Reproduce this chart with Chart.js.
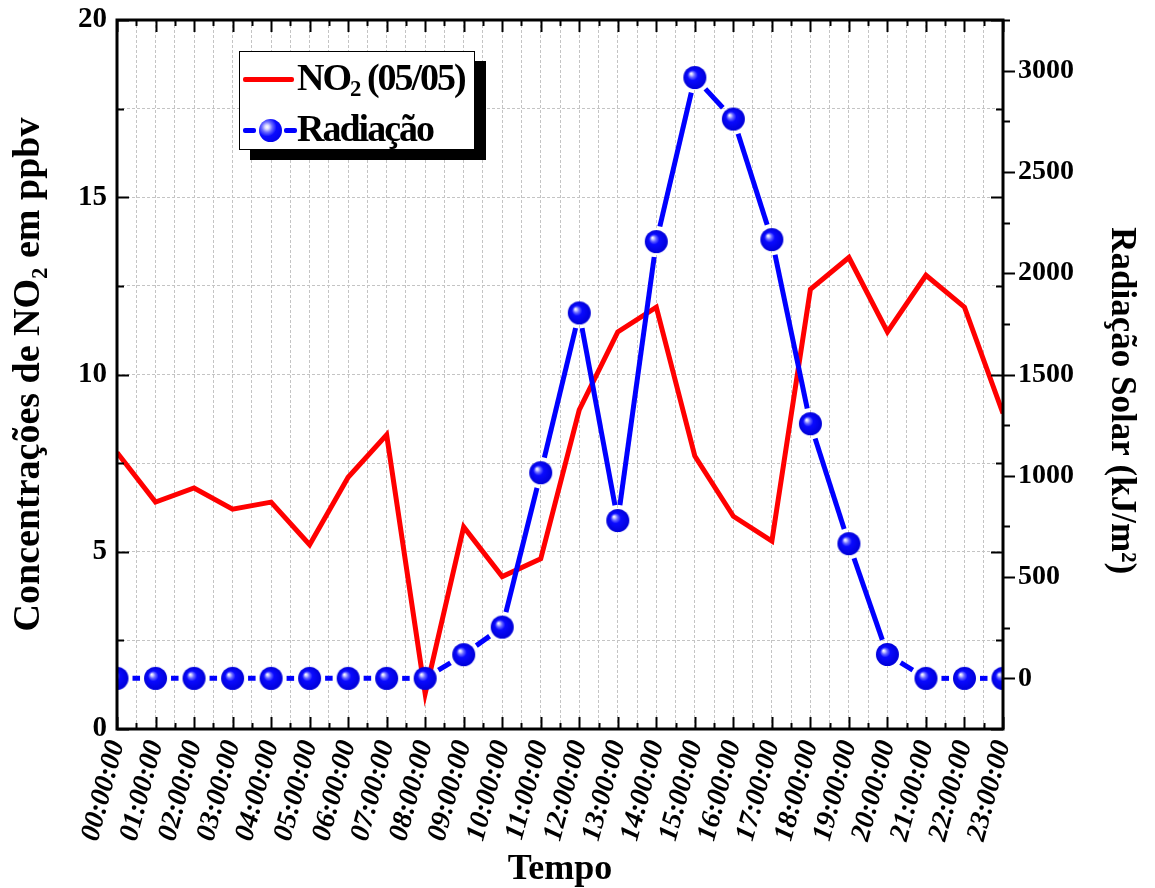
<!DOCTYPE html>
<html>
<head>
<meta charset="utf-8">
<script src="https://cdn.jsdelivr.net/npm/chart.js@4.4.1/dist/chart.umd.min.js"></script>
<style>
  html, body { margin: 0; padding: 0; background: #fff; }
  #wrap { position: relative; width: 1155px; height: 888px; }
  #legend {
    position: absolute; left: 239px; top: 51px; width: 234px; height: 97px;
    border: 1px solid #000; background: #fff; box-shadow: 11px 10px 0 #000;
    font-family: "Liberation Serif", "Times New Roman", serif; font-weight: bold; color: #000;
  }
  .txt { position: absolute; left: 57px; font-size: 38px; line-height: 38px; letter-spacing: -2px; white-space: nowrap; }
  .txt sub { font-size: 60%; vertical-align: -6px; line-height: 0; }
  .redline { position: absolute; left: 3px; top: 25px; width: 51px; height: 5px; background: #ff0000; border-radius: 2px; }
  .dash { position: absolute; top: 76px; width: 13px; height: 5px; background: #0000ff; border-radius: 2px; }
  .ball {
    position: absolute; left: 19px; top: 67px; width: 23px; height: 23px; border-radius: 50%;
    background: radial-gradient(circle at 35% 35%, #fff 0, #d8d8ff 10%, #6a6aff 25%, #0a0aff 45%, #0000d8 100%);
  }
</style>
</head>
<body>
<div id="wrap">
  <canvas id="chart" width="1155" height="888"></canvas>
  <div id="legend">
    <div class="redline"></div>
    <div class="txt" style="top:6px">NO<sub>2</sub> (05/05)</div>
    <div class="dash" style="left:3px"></div>
    <div class="ball"></div>
    <div class="dash" style="left:44px"></div>
    <div class="txt" style="top:57px">Radiação</div>
  </div>
</div>
<script>
// dados
const horas = ['00:00:00', '01:00:00', '02:00:00', '03:00:00', '04:00:00', '05:00:00',
  '06:00:00', '07:00:00', '08:00:00', '09:00:00', '10:00:00', '11:00:00',
  '12:00:00', '13:00:00', '14:00:00', '15:00:00', '16:00:00', '17:00:00',
  '18:00:00', '19:00:00', '20:00:00', '21:00:00', '22:00:00', '23:00:00'];
const no2 = [7.8, 6.4, 6.8, 6.2, 6.4, 5.2, 7.1, 8.3, 1.0, 5.7, 4.3, 4.8,
  9.0, 11.2, 11.9, 7.7, 6.0, 5.3, 12.4, 13.3, 11.2, 12.8, 11.9, 8.9];
const radiacao = [0, 0, 0, 0, 0, 0, 0, 0, 0, 117, 253, 1015,
  1804, 779, 2156, 2966, 2761, 2166, 1257, 665, 118, 0, 0, 0];
const no2Ticks = [0, 5, 10, 15, 20];
const radTicks = [0, 500, 1000, 1500, 2000, 2500, 3000];

const FONT = '"Liberation Serif", "Times New Roman", serif';

// bolinha azul com brilho (marcador)
function makeBall(r) {
  const c = document.createElement('canvas');
  c.width = c.height = 2 * r + 2;
  const g = c.getContext('2d');
  const cx = r + 1, cy = r + 1;
  const grad = g.createRadialGradient(cx - r * 0.35, cy - r * 0.35, 0, cx, cy, r);
  grad.addColorStop(0, '#ffffff');
  grad.addColorStop(0.1, '#d8d8ff');
  grad.addColorStop(0.25, '#6a6aff');
  grad.addColorStop(0.45, '#0a0aff');
  grad.addColorStop(1, '#0000d8');
  g.fillStyle = grad;
  g.beginPath();
  g.arc(cx, cy, r, 0, Math.PI * 2);
  g.fill();
  return c;
}
const ball = makeBall(11.5);

// linha com espaço em volta dos marcadores
const GAP = 15.5;
function segLen(ctx) {
  return Math.hypot(ctx.p1.x - ctx.p0.x, ctx.p1.y - ctx.p0.y);
}

// sem folga extra por causa dos rótulos
function fixY(width) {
  return s => { s.width = width; s.paddingTop = 0; s.paddingBottom = 0; };
}

// moldura e marcas para dentro
const framePlugin = {
  id: 'frame',
  afterDraw(chart) {
    const ctx = chart.ctx;
    const a = chart.chartArea;
    const sx = chart.scales.x, sy = chart.scales.y, sy1 = chart.scales.y1;
    ctx.save();
    ctx.strokeStyle = '#000';
    ctx.lineWidth = 2;
    ctx.beginPath();
    sx.ticks.forEach(t => {
      const px = Math.round(sx.getPixelForValue(t.value)) + 0.5;
      const len = Number.isInteger(t.value) ? 12 : 6;
      ctx.moveTo(px, a.bottom); ctx.lineTo(px, a.bottom - len);
      ctx.moveTo(px, a.top); ctx.lineTo(px, a.top + len);
    });
    sy.ticks.forEach(t => {
      const py = Math.round(sy.getPixelForValue(t.value)) + 0.5;
      const len = t.value % 5 === 0 ? 12 : 7;
      ctx.moveTo(a.left, py); ctx.lineTo(a.left + len, py);
      ctx.moveTo(a.right, py); ctx.lineTo(a.right - len, py);
    });
    sy1.ticks.forEach(t => {
      if (t.value < 0) return;
      const py = Math.round(sy1.getPixelForValue(t.value)) + 0.5;
      const len = t.value % 500 === 0 ? 12 : 7;
      ctx.moveTo(a.right, py); ctx.lineTo(a.right + len, py);
    });
    ctx.stroke();
    ctx.lineWidth = 3;
    ctx.strokeRect(a.left, a.top, a.right - a.left, a.bottom - a.top);
    ctx.restore();
  }
};

new Chart(document.getElementById('chart'), {
  type: 'line',
  data: {
    datasets: [{
      label: 'NO2 (05/05)',
      data: no2.map((v, i) => ({ x: i, y: v })),
      yAxisID: 'y',
      borderColor: '#ff0000',
      borderWidth: 5,
      borderJoinStyle: 'miter',
      pointRadius: 0,
      tension: 0,
      order: 2
    }, {
      label: 'Radiação',
      data: radiacao.map((v, i) => ({ x: i, y: v })),
      yAxisID: 'y1',
      borderColor: '#0000ff',
      borderWidth: 5,
      borderCapStyle: 'butt',
      pointStyle: ball,
      pointRadius: 11.5,
      tension: 0,
      order: 1,
      segment: {
        borderDash: ctx => { const L = segLen(ctx); return [Math.max(L - 2 * GAP, 0), 2 * GAP]; },
        borderDashOffset: ctx => segLen(ctx) - GAP
      }
    }]
  },
  options: {
    responsive: false,
    animation: false,
    events: [],
    layout: { padding: { top: 20, left: 0, right: 0, bottom: 0 } },
    plugins: { legend: { display: false }, tooltip: { enabled: false } },
    scales: {
      x: {
        type: 'linear', min: 0, max: 23,
        afterFit: s => { s.height = 159; },
        ticks: {
          stepSize: 0.5, autoSkip: false, minRotation: 75, maxRotation: 75, padding: 8,
          color: '#000', font: { family: FONT, size: 28, weight: 'bold', style: 'italic' },
          callback: v => Number.isInteger(v) ? horas[v] : ''
        },
        grid: { color: '#c4c4c4', lineWidth: 1, drawTicks: false },
        border: { display: false, dash: [3, 2] },
        title: {
          display: true, text: 'Tempo', color: '#000',
          font: { family: FONT, size: 36, weight: 'bold', lineHeight: 1 }, padding: { top: 4, bottom: 0 }
        }
      },
      y: {
        position: 'left', min: 0, max: 20,
        afterFit: fixY(117),
        ticks: {
          stepSize: 2.5, padding: 10, color: '#000',
          font: { family: FONT, size: 29, weight: 'bold' },
          callback: v => no2Ticks.includes(v) ? String(v) : ''
        },
        grid: { color: '#c4c4c4', lineWidth: 1, drawTicks: false },
        border: { display: false, dash: [3, 2] },
        title: {
          display: true, text: 'Concentrações de NO₂ em ppbv', color: '#000',
          font: { family: FONT, size: 38, weight: 'bold', lineHeight: 1 }, padding: { top: 10, bottom: 0 }
        }
      },
      y1: {
        position: 'right', min: -250, max: 3250,
        afterFit: fixY(152),
        ticks: {
          stepSize: 250, padding: 15, color: '#000',
          font: { family: FONT, size: 28, weight: 'bold' },
          callback: v => radTicks.includes(v) ? String(v) : ''
        },
        grid: { drawOnChartArea: false, drawTicks: false },
        border: { display: false },
        title: {
          display: true, text: '      Radiação Solar (kJ/m²)', color: '#000',
          font: { family: FONT, size: 35, weight: 'bold', lineHeight: 1 }, padding: { top: 16, bottom: 0 }
        }
      }
    }
  },
  plugins: [framePlugin]
});
</script>
</body>
</html>
